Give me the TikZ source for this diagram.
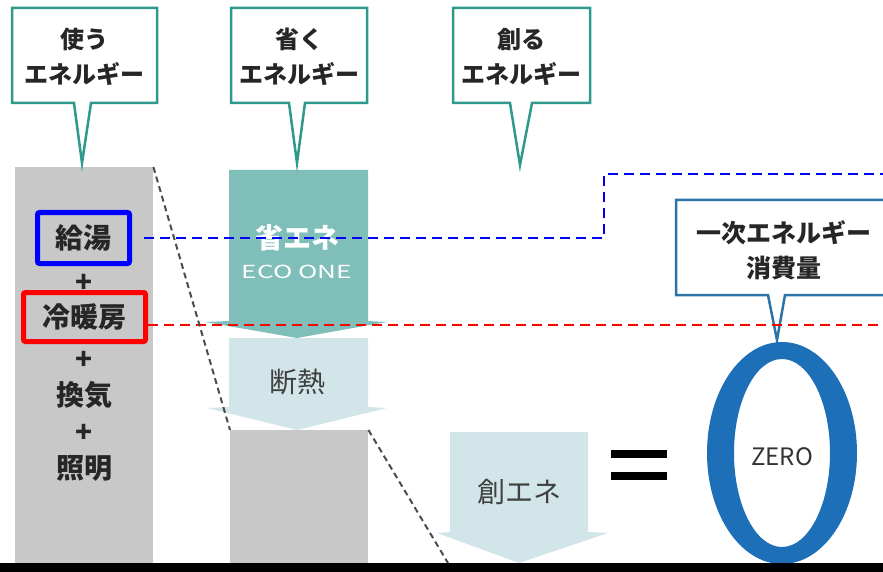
\documentclass[tikz,border=0pt]{standalone}
\usepackage{fontspec}
\setmainfont{Noto Sans CJK JP}
\definecolor{calloutgreen}{HTML}{2F9A8C}
\definecolor{calloutblue}{HTML}{2E73A8}
\definecolor{usegray}{HTML}{C8C8C8}
\definecolor{ecoteal}{HTML}{80BEB9}
\definecolor{paleblue}{HTML}{D2E5E8}
\definecolor{zeroblue}{HTML}{1D6FB7}
\begin{document}
\begin{tikzpicture}[x=1pt,y=-1pt,
  callout/.style = {draw=calloutgreen,line width=2.5pt,fill=white},
  calltext/.style = {align=center,font=\bfseries\fontsize{24}{35}\selectfont,text=black!85},
  graycol/.style = {fill=usegray,inner sep=0pt,anchor=north west},
  coltext/.style = {font=\bfseries\fontsize{28}{28}\selectfont,text=black!85},
  hilite/.style = {coltext,line width=5pt,rounded corners=2pt,inner sep=0pt},
  arrowtext/.style = {font=\fontsize{28}{28}\selectfont,text=black!75},
  hdash/.style = {line width=2pt,dash pattern=on 10pt off 6pt},
  diag/.style = {line width=2pt,black!70,dash pattern=on 6pt off 4pt}]
\useasboundingbox (0,0) rectangle (883,572);
\clip (0,0) rectangle (883,572);
% gray blocks
\node[graycol,minimum width=138pt,minimum height=398pt] (usecol) at (15,167) {};
\node[graycol,minimum width=138pt,minimum height=135pt] (remain) at (230,430) {};
% arrows
\fill[ecoteal] (229,170) -- (368,170) -- (368,321) -- (387,322) -- (297,338) -- (205,322) -- (229,321) -- cycle;
\fill[paleblue] (229,338) -- (368,338) -- (368,407) -- (387,408) -- (297,430) -- (207,408) -- (229,407) -- cycle;
\fill[paleblue] (450,432) -- (588,432) -- (588,532) -- (608,533) -- (519,563) -- (437,533) -- (450,532) -- cycle;
\node[arrowtext,font=\bfseries\fontsize{28}{28}\selectfont,text=white] (shoene) at (297,238) {省エネ};
\node[font=\fontsize{18}{18}\selectfont,text=white] (ecoone) at (297,272) {\scalebox{1.45}[1]{ECO ONE}};
\node[arrowtext] (dannetsu) at (297,382) {断熱};
\node[arrowtext] (soene) at (519,492) {創エネ};
% callouts
\foreach \l/\r/\pl/\pr/\tx/\ty/\nm/\txt in {12/157/74/91/82/163/use/{使う\\エネルギー},
    231/367/289/305/297/163/save/{省く\\エネルギー},
    453/590/510/532/520/165/make/{創る\\エネルギー}}
{
  \draw[callout] (\l,8) -- (\r,8) -- (\r,103) -- (\pr,103) -- (\tx,\ty) -- (\pl,103) -- (\l,103) -- cycle;
  \node[calltext] (\nm) at ({(\l+\r)/2},57) {\txt};
}
\draw[callout,draw=calloutblue] (676,200) -- (895,200) -- (895,295) -- (785,295) -- (777,340) -- (768,295) -- (676,295) -- cycle;
\node[calltext,font=\bfseries\fontsize{25}{35}\selectfont] (primary) at (784,250) {一次エネルギー\\消費量};
% zero
\fill[zeroblue,even odd rule] (782,453) ellipse [x radius=75,y radius=111] (782,453) ellipse [x radius=48,y radius=94];
\node[font=\fontsize{24}{24}\selectfont,text=black!80] (zero) at (782,457) {ZERO};
\fill (611,450) rectangle (667,458);
\fill (611,472) rectangle (667,480);
% column text
\node[hilite,draw=blue,minimum width=92pt,minimum height=51pt] (kyuto) at (83.5,238) {給湯};
\node[hilite,draw=red,minimum width=122pt,minimum height=49pt] (reibo) at (84.5,317) {冷暖房};
\foreach \y/\nm/\txt in {283/plusa/+, 360/plusb/+, 395/kanki/換気, 433/plusc/+, 468/shomei/照明}
  \node[coltext] (\nm) at (84,\y) {\txt};
% dashed lines
\coordinate (bturn) at (604,174);
\coordinate (bend) at (883,174);
\coordinate (rend) at (883,325);
\coordinate (diagend) at (448,563);
\draw[hdash,blue] ([xshift=12pt]kyuto.east) -| (bturn) -- (bend);
\draw[hdash,red] (reibo.east |- rend) -- (rend);
\draw[diag] (usecol.north east) -- (remain.north west);
\draw[diag] (remain.north east) -- (diagend);
% base line
\fill[black] (0,563) rectangle (883,572);
\end{tikzpicture}
\end{document}
